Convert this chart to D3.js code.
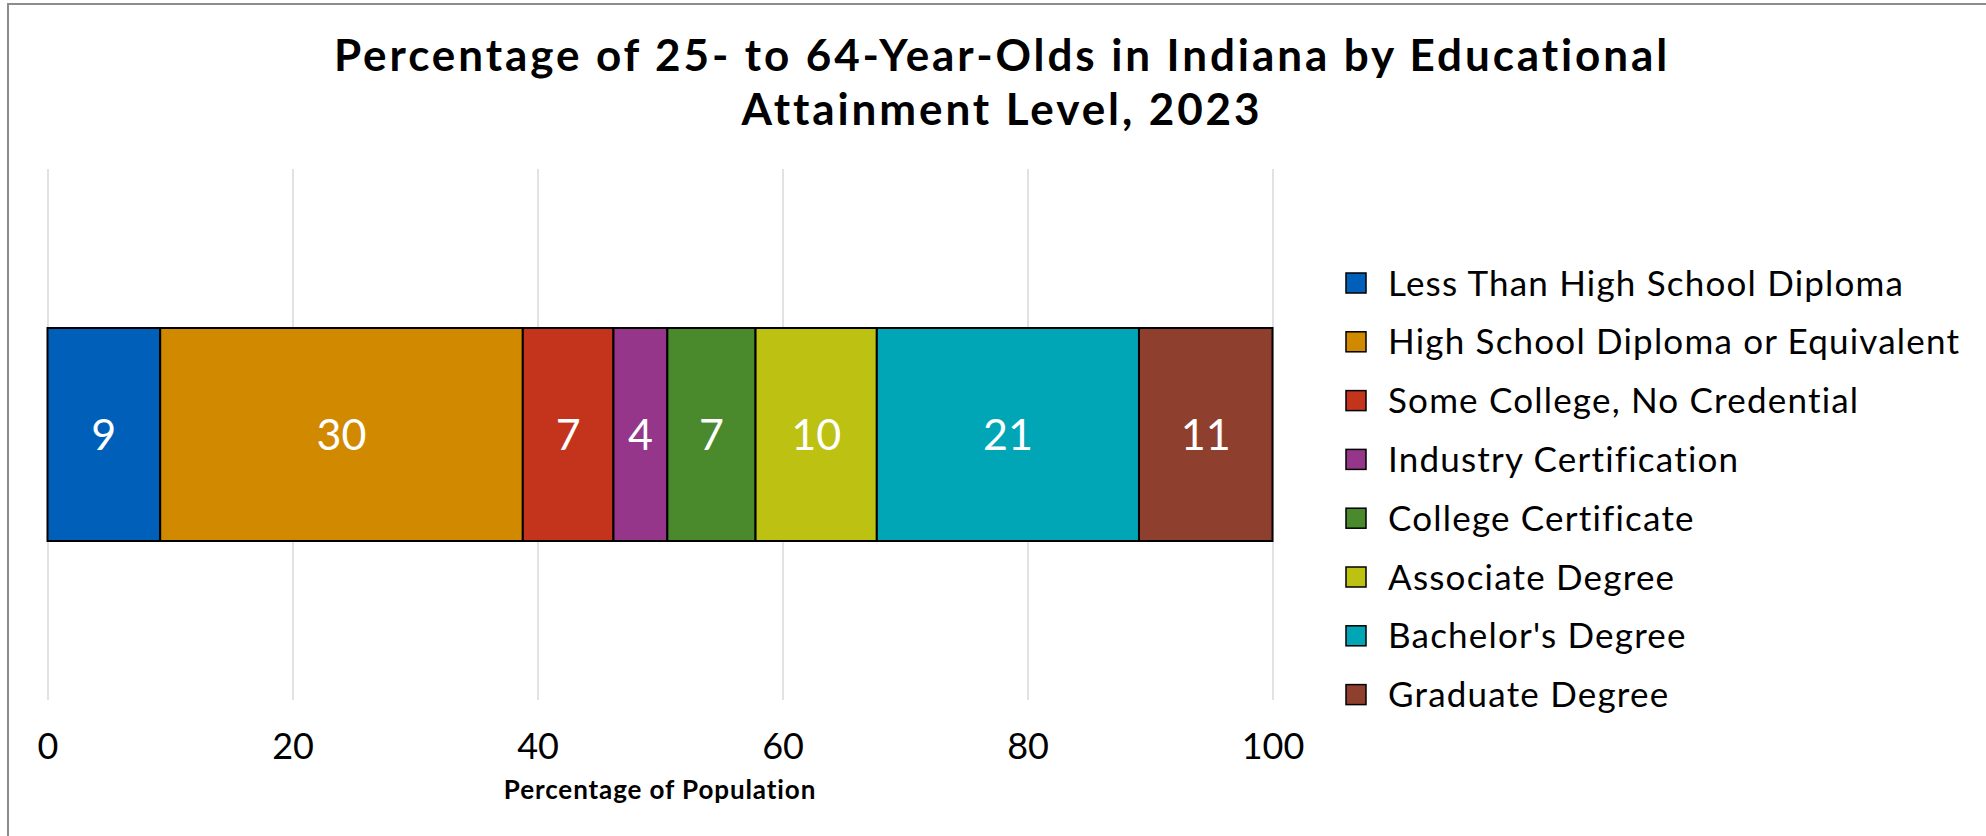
<!DOCTYPE html>
<html>
<head>
<meta charset="utf-8">
<script src="https://cdn.jsdelivr.net/npm/d3@7"></script>
<style>
  html, body { margin: 0; padding: 0; background: #fff; }
  svg { display: block; font-family: Lato, "Open Sans", sans-serif; }
</style>
</head>
<body>
<svg id="chart" width="1986" height="836"></svg>
<script>
const titleLines = ["Percentage of 25- to 64-Year-Olds in Indiana by Educational", "Attainment Level, 2023"];
const categories = ["Less Than High School Diploma", "High School Diploma or Equivalent", "Some College, No Credential", "Industry Certification", "College Certificate", "Associate Degree", "Bachelor's Degree", "Graduate Degree"];
const values = [9.2, 29.6, 7.4, 4.4, 7.2, 9.9, 21.4, 10.9];
const labels = ["9", "30", "7", "4", "7", "10", "21", "11"];
const colors = ["#005FB9", "#D18A00", "#C4341C", "#95368A", "#4B8A2C", "#BDC111", "#00A6B6", "#8F3F2D"];
const tickValues = [0, 20, 40, 60, 80, 100];
const xAxisTitle = "Percentage of Population";
const rowName = ["Indiana"];

const svg = d3.select("#chart");

// fit letter-spacing so a text node reaches a target width
function fitSpacing(sel, target) {
  const node = sel.node();
  const len = node.getComputedTextLength();
  const n = node.textContent.length;
  return (target - len) / Math.max(1, n - 1);
}

// outer frame
svg.append("rect").attr("x", 8).attr("y", 4).attr("width", 2000).attr("height", 900)
  .attr("fill", "#fff").attr("stroke", "#8c8c8c").attr("stroke-width", 2);

const x = d3.scaleLinear().domain([0, 100]).range([47.5, 1272.5]);
const y = d3.scaleBand().domain(rowName).range([169, 700]).paddingInner(0).paddingOuter(0.7465);

// title
const titleG = svg.append("g");
const tLines = titleG.selectAll("text").data(titleLines).join("text")
  .attr("x", 1002).attr("y", (d, i) => 71 + i * 53.5).attr("text-anchor", "middle")
  .attr("font-weight", 700).attr("font-size", 44).attr("fill", "#000").text(d => d);
const tls = fitSpacing(tLines.filter((d, i) => i === 0), 1334);
tLines.attr("letter-spacing", tls);

// axis + gridlines
const axis = d3.axisBottom(x).tickValues(tickValues).tickSizeInner(-(700 - 169)).tickSizeOuter(0);
const gAxis = svg.append("g").attr("transform", "translate(0,700)").call(axis);
gAxis.select(".domain").remove();
gAxis.selectAll(".tick line").attr("stroke", "#d9d9d9").attr("stroke-width", 1.5);
gAxis.selectAll(".tick text").attr("y", 59).attr("dy", 0)
  .attr("font-family", "Lato, sans-serif").attr("font-size", 36).attr("fill", "#000");

// stacked bar
let cum = 0;
const segs = values.map((v, i) => { const s = { i, x0: cum, x1: cum + v, v, label: labels[i], color: colors[i] }; cum += v; return s; });

const gBar = svg.append("g");
gBar.selectAll("rect").data(segs).join("rect")
  .attr("x", d => x(d.x0)).attr("y", y("Indiana"))
  .attr("width", d => x(d.x1) - x(d.x0)).attr("height", y.bandwidth())
  .attr("fill", d => d.color).attr("stroke", "#000").attr("stroke-width", 2);

gBar.selectAll("text").data(segs).join("text")
  .attr("x", d => (x(d.x0) + x(d.x1)) / 2).attr("y", y("Indiana") + y.bandwidth() / 2)
  .attr("dy", "0.36em").attr("text-anchor", "middle")
  .attr("font-size", 43).attr("fill", "#fff").text(d => d.label);

// x axis title
const axTitle = svg.append("text").attr("x", (x(0) + x(100)) / 2).attr("y", 799).attr("text-anchor", "middle")
  .attr("font-weight", 700).attr("font-size", 26).attr("fill", "#000").text(xAxisTitle);
axTitle.attr("letter-spacing", fitSpacing(axTitle, 312));

// legend
const legend = svg.append("g");
const rows = legend.selectAll("g").data(categories).join("g")
  .attr("transform", (d, i) => `translate(1346, ${283 + i * 58.8})`);
rows.append("rect").attr("x", 0).attr("y", -10).attr("width", 20).attr("height", 20)
  .attr("fill", (d, i) => colors[i]).attr("stroke", "#000").attr("stroke-width", 1.5);
const lt = rows.append("text").attr("x", 42).attr("y", 0).attr("dy", "0.36em")
  .attr("font-size", 35).attr("fill", "#000").text(d => d);
const lls = fitSpacing(lt.filter((d, i) => i === 1), 571);
lt.attr("letter-spacing", lls);
</script>
</body>
</html>
